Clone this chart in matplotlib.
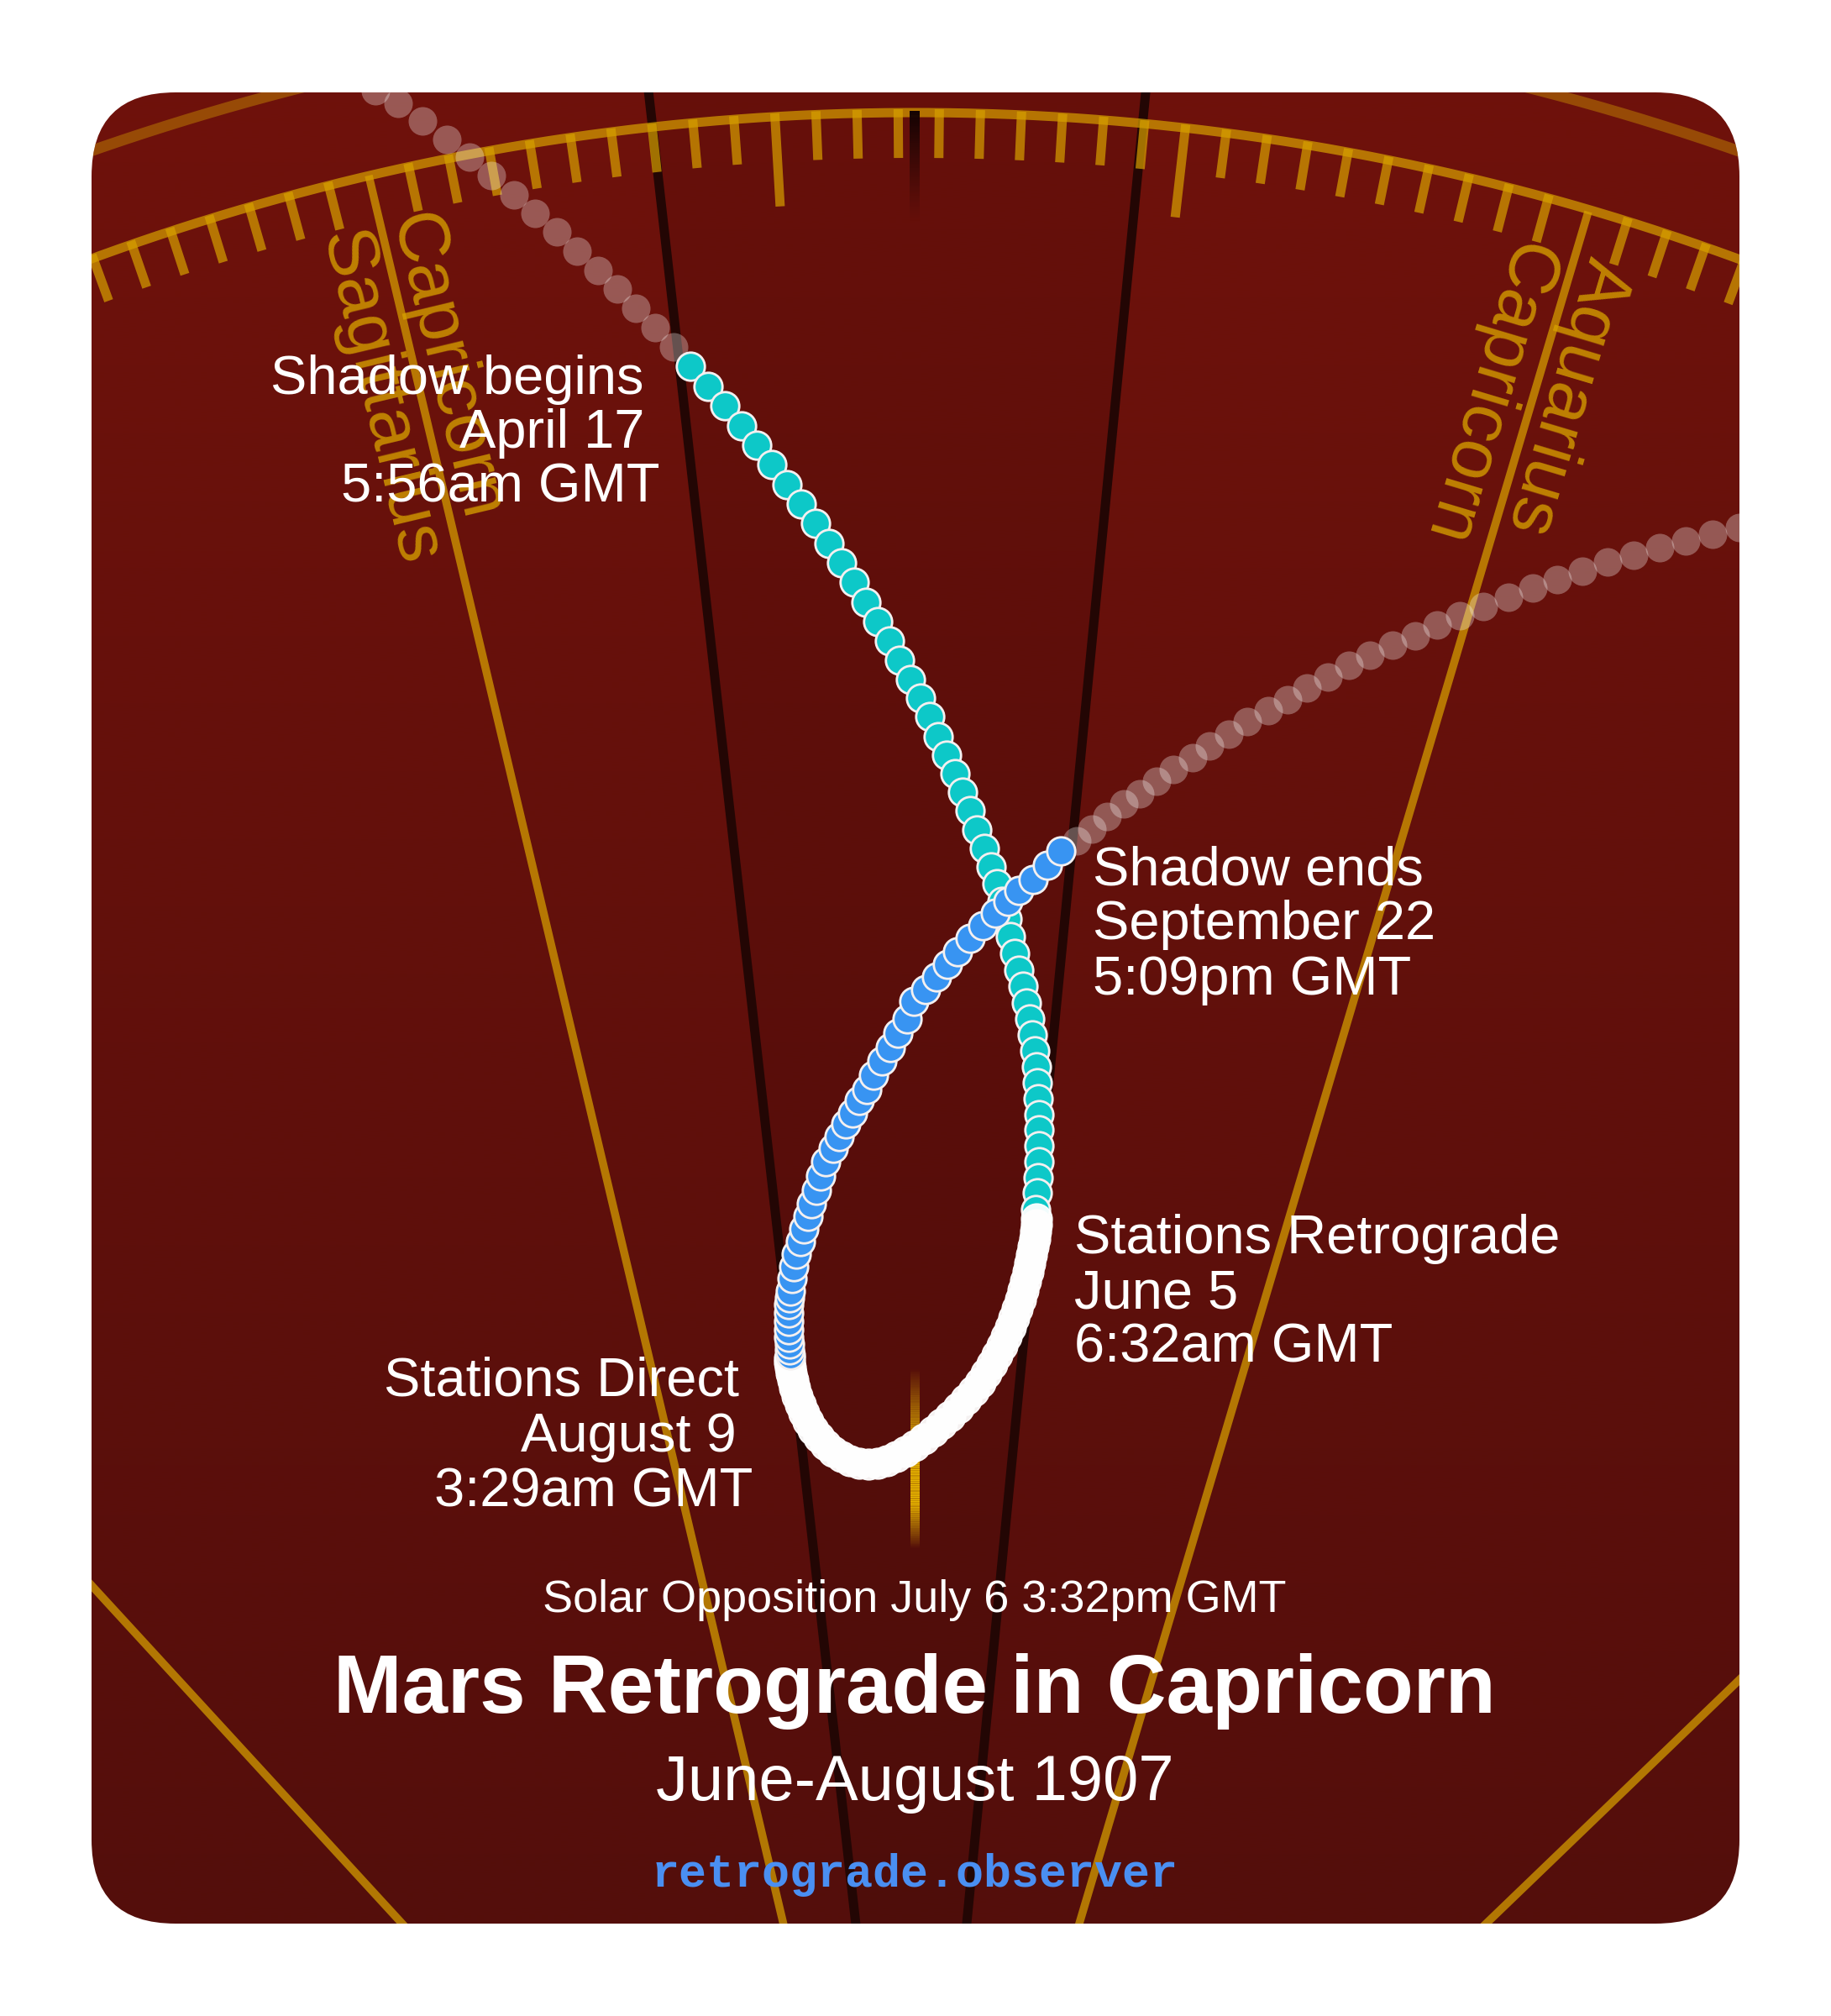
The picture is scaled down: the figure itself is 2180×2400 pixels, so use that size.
import numpy as np
import matplotlib
matplotlib.use("Agg")
import matplotlib.pyplot as plt
from matplotlib.patches import FancyBboxPatch, Polygon
from matplotlib.collections import LineCollection

# ---------------- data (pixel positions of daily Mars positions) -------------
pre_x = [393, 420, 447, 474, 503, 532, 559, 585, 612, 637, 663, 687, 712, 735, 757, 780, 802]
pre_y = [68, 88, 108, 123, 144, 166, 187, 209, 232, 254, 276, 299, 322, 344, 367, 390, 413]

shadow_in_x = [822, 843, 863, 883, 901, 919, 937, 954, 971, 987, 1002, 1017, 1031, 1045, 1059, 1071,
               1084, 1096, 1107, 1117, 1127, 1137, 1146, 1155, 1163, 1172, 1180, 1187, 1193, 1199, 1203,
               1208, 1213, 1218, 1222, 1226, 1229, 1232, 1234, 1235, 1236, 1237, 1237, 1237, 1237, 1236,
               1235, 1233]
shadow_in_y = [436, 460, 483, 507, 530, 553, 577, 600, 623, 647, 670, 693, 717, 740, 763, 786,
               809, 831, 853, 877, 899, 921, 943, 965, 988, 1010, 1032, 1052, 1073, 1094, 1115,
               1135, 1155, 1174, 1194, 1213, 1232, 1251, 1270, 1289, 1308, 1327, 1345, 1364, 1383, 1402,
               1420, 1440]

retro_x = [1234, 1234, 1233, 1232, 1230, 1228, 1226, 1224, 1221, 1218, 1215, 1211, 1207, 1203, 1198,
           1193, 1187, 1181, 1174, 1167, 1159, 1150, 1141, 1131, 1121, 1111, 1100, 1089, 1078, 1067,
           1056, 1045, 1034, 1023, 1012, 1002, 992, 983, 975, 968, 962, 957, 953, 949, 946, 944, 942,
           941, 940, 940]
retro_y = [1451, 1458, 1466, 1475, 1484, 1494, 1504, 1514, 1525, 1536, 1547, 1558, 1569, 1580, 1591,
           1602, 1613, 1624, 1635, 1646, 1656, 1666, 1676, 1686, 1695, 1704, 1713, 1721, 1728, 1734,
           1739, 1742, 1743, 1742, 1739, 1734, 1728, 1720, 1711, 1702, 1692, 1682, 1672, 1662, 1652,
           1643, 1635, 1628, 1622, 1617]

shadow_out_x = [941, 940, 940, 939, 939, 939, 939, 939, 940, 941, 943, 945, 948, 953, 957, 962, 966,
                972, 977, 983, 992, 999, 1007, 1015, 1023, 1032, 1040, 1050, 1060, 1069, 1080, 1088,
                1102, 1115, 1128, 1140, 1155, 1170, 1185, 1200, 1213, 1230, 1247, 1263]
shadow_out_y = [1613, 1607, 1600, 1592, 1583, 1573, 1563, 1553, 1545, 1537, 1522, 1508, 1493, 1478, 1463,
                1448, 1433, 1417, 1400, 1383, 1367, 1353, 1338, 1325, 1310, 1297, 1280, 1263, 1247, 1230,
                1213, 1192, 1178, 1163, 1148, 1133, 1117, 1102, 1087, 1073, 1060, 1047, 1030, 1013]

post_x = [1282, 1300, 1318, 1338, 1357, 1377, 1397, 1420, 1440, 1463, 1485, 1510, 1533, 1556, 1581, 1606,
          1631, 1658, 1685, 1711, 1738, 1766, 1796, 1825, 1854, 1884, 1914, 1945, 1976, 2007, 2039,
          2071, 2103]
post_y = [1001, 987, 972, 957, 945, 930, 916, 902, 888, 874, 859, 846, 833, 819, 806, 792,
          780, 768, 757, 744, 733, 722, 711, 700, 690, 680, 669, 661, 652, 644, 636, 628, 620]

zodiac_labels = ["Sagittarius", "Capricorn", "Capricorn", "Aquarius"]

events = [
    ["Shadow begins", "April 17", "5:56am GMT"],
    ["Shadow ends", "September 22", "5:09pm GMT"],
    ["Stations Retrograde", "June 5", "6:32am GMT"],
    ["Stations Direct", "August 9", "3:29am GMT"],
]
opposition_text = "Solar Opposition July 6 3:32pm GMT"
title = "Mars Retrograde in Capricorn"
subtitle = "June-August 1907"
site = "retrograde.observer"

# ---------------- figure ----------------
W, H = 2180, 2400
PT = 0.72  # points per pixel at dpi 100
fig = plt.figure(figsize=(21.8, 24), dpi=100)
ax = fig.add_axes([0, 0, 1, 1])
ax.set_xlim(0, W)
ax.set_ylim(H, 0)
ax.axis("off")

panel = FancyBboxPatch((109, 110), 1962, 2180, boxstyle="round,pad=0,rounding_size=100",
                       facecolor="none", edgecolor="none")
ax.add_patch(panel)

g = np.linspace(0, 1, 512)[:, None, None]
top = np.array([111, 18, 11]) / 255.0
bot = np.array([84, 14, 11]) / 255.0
img = top[None, None, :] * (1 - g) + bot[None, None, :] * g
im = ax.imshow(img, extent=(109, 2071, 2290, 110), aspect="auto", zorder=0, interpolation="bilinear")
im.set_clip_path(panel)
ax.set_xlim(0, W)
ax.set_ylim(H, 0)


def clip(a):
    a.set_clip_path(panel)
    return a


# darker central wedge
clip(ax.add_patch(Polygon([(770, 90), (1366, 90), (1150, 2300), (1020, 2300)], closed=True,
                          facecolor="black", alpha=0.07, lw=0, zorder=1)))

# dark meridian lines
for (x0, y0, x1, y1) in [(770, 90, 1020, 2300), (1366, 90, 1150, 2300)]:
    l, = ax.plot([x0, x1], [y0, y1], color="#230604", lw=11 * PT, zorder=2, solid_capstyle="butt")
    clip(l)

GOLD = "#d7a000"
cx, cy, R, R2 = 1089, 2981, 2847, 2968
th = np.radians(np.linspace(-40, 40, 3000))
l, = ax.plot(cx + R2 * np.sin(th), cy - R2 * np.cos(th), color=GOLD, alpha=0.4, lw=13 * PT, zorder=3)
clip(l)
l, = ax.plot(cx + R * np.sin(th), cy - R * np.cos(th), color=GOLD, alpha=0.7, lw=11 * PT, zorder=3)
clip(l)

# degree ticks
segs = []
for lam in range(235, 335):
    if lam % 30 == 0:
        continue
    t = np.radians(-13.2 + 0.985 * (lam - 270))
    r_in = R - 107 if lam % 10 == 0 else R - 54
    r_out = R + 4
    segs.append([(cx + r_out * np.sin(t), cy - r_out * np.cos(t)),
                 (cx + r_in * np.sin(t), cy - r_in * np.cos(t))])
lc = LineCollection(segs, colors=GOLD, alpha=0.7, linewidths=11 * PT, zorder=3, capstyle="butt")
ax.add_collection(lc)
clip(lc)

# sign boundaries and outer lines
for (x0, y0, x1, y1) in [(439, 209, 935, 2300), (1891, 252, 1282, 2300),
                         (93, 1870, 488, 2300), (2081, 1990, 1759, 2300)]:
    l, = ax.plot([x0, x1], [y0, y1], color=GOLD, alpha=0.72, lw=9.5 * PT, zorder=3, solid_capstyle="butt")
    clip(l)

# faded markers: dark at top (anti-sun side), gold at bottom (opposition)
ys = np.linspace(132, 265, 60)
segs = [[(1089, ys[i]), (1089, ys[i + 1])] for i in range(len(ys) - 1)]
cols = [(0.08, 0.01, 0.01, max(0.0, 1 - i / 58) ** 1.2) for i in range(len(ys) - 1)]
lc = LineCollection(segs, colors=cols, linewidths=12 * PT, zorder=3.5)
ax.add_collection(lc)
clip(lc)

ys = np.linspace(1628, 1842, 120)
segs, cols = [], []
for i in range(len(ys) - 1):
    y = ys[i]
    if y < 1720:
        a = (y - 1628) / 92
    elif y < 1790:
        a = 1.0
    else:
        a = max(0.0, (1842 - y) / 52)
    segs.append([(1089, ys[i]), (1089, ys[i + 1])])
    cols.append((0.91, 0.71, 0.0, a))
lc = LineCollection(segs, colors=cols, linewidths=11 * PT, zorder=3.5)
ax.add_collection(lc)
clip(lc)

# zodiac labels along boundaries
zfont = dict(family="Liberation Sans", fontsize=86 * PT, color=GOLD, alpha=0.78, zorder=4,
             ha="center", va="center", rotation_mode="anchor")
for lab, (x, y, rot) in zip(zodiac_labels, [(451, 473, -76.6), (530, 437, -76.6),
                                            (1770, 468, -106.6), (1866, 472, -106.6)]):
    t = ax.text(x, y, lab, rotation=rot, **zfont)
    clip(t)

# path dots
s_dot = 580
a = ax.scatter(pre_x, pre_y, s=600, color=(1, 1, 1, 0.3), linewidths=0, zorder=5)
clip(a)
a = ax.scatter(post_x, post_y, s=600, color=(1, 1, 1, 0.3), linewidths=0, zorder=5)
clip(a)
a = ax.scatter(shadow_in_x, shadow_in_y, s=s_dot, facecolor="#0dc8c8", edgecolor="#f4f0f0",
               linewidths=2.8 * PT, zorder=6)
clip(a)
a = ax.scatter(retro_x, retro_y, s=700, facecolor=(1, 1, 1, 0.95), edgecolor=(1, 1, 1, 0.95),
               linewidths=1.5 * PT, zorder=6)
clip(a)
a = ax.scatter(shadow_out_x, shadow_out_y, s=s_dot, facecolor="#3894f2", edgecolor="#f4f0f0",
               linewidths=2.8 * PT, zorder=6)
clip(a)

# event annotations
tf = dict(family="Liberation Sans", fontsize=65 * PT, color="white", zorder=8, va="baseline")
for txt, x, y in zip(events[0], [767, 767, 785], [469, 533, 598]):
    ax.text(x, y, txt, ha="right", **tf)
for txt, y in zip(events[1], [1053, 1118, 1184]):
    ax.text(1301, y, txt, ha="left", **tf)
for txt, y in zip(events[2], [1492, 1557, 1622]):
    ax.text(1279, y, txt, ha="left", **tf)
for txt, x, y in zip(events[3], [880, 877, 896], [1662, 1728, 1793]):
    ax.text(x, y, txt, ha="right", **tf)

ax.text(1089, 1919, opposition_text, family="Liberation Sans", fontsize=54 * PT, color="white",
        ha="center", va="baseline", zorder=8)
ax.text(1089, 2039, title, family="Liberation Sans", fontweight="bold", fontsize=98 * PT,
        color="white", ha="center", va="baseline", zorder=8)
ax.text(1089, 2143, subtitle, family="Liberation Sans", fontsize=76 * PT, color="white",
        ha="center", va="baseline", zorder=8)
ax.text(1089, 2246, site, family="Liberation Mono", fontweight="bold", fontsize=55 * PT,
        color="#4a8ff2", ha="center", va="baseline", zorder=8)

fig.savefig("out.png", dpi=100, facecolor="white")
